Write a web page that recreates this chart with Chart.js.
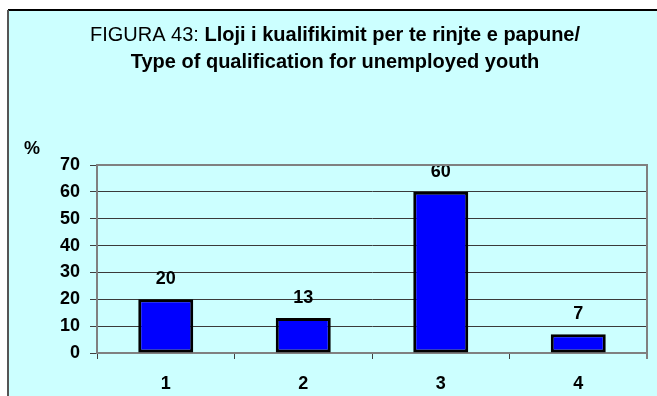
<!DOCTYPE html>
<html>
<head>
<meta charset="utf-8">
<script src="https://cdn.jsdelivr.net/npm/chart.js@4/dist/chart.umd.min.js"></script>
<style>
  html, body { margin: 0; padding: 0; background: #fff; }
  canvas { display: block; }
</style>
</head>
<body>
<canvas id="qualChart" width="657" height="396"></canvas>
<script>
// Qualification type of unemployed youth, in percent
const categories = ["1", "2", "3", "4"];
const shares = [20, 13, 60, 7];
const yMin = 0;
const yMax = 70;
const yStep = 10;

const titleNormal = "FIGURA 43: ";
const titleBold = "Lloji i kualifikimit per te rinjte e papune/";
const titleLine2 = "Type of qualification for unemployed youth";
const unitLabel = "%";

const FONT = "'Liberation Sans', Arial, sans-serif";

// Cyan panel with its top/left border, plus the two-line heading and the % unit
const panelPlugin = {
    id: "panel",
    beforeDraw(chart) {
        const ctx = chart.ctx;
        ctx.save();
        ctx.fillStyle = "#ffffff";
        ctx.fillRect(0, 0, chart.width, chart.height);
        ctx.fillStyle = "#ccffff";
        ctx.fillRect(8, 10, chart.width - 8, chart.height - 10);
        ctx.lineWidth = 2;
        ctx.strokeStyle = "#000000";
        ctx.beginPath();
        ctx.moveTo(8, 10);
        ctx.lineTo(chart.width, 10);
        ctx.stroke();
        ctx.strokeStyle = "#555555";
        ctx.beginPath();
        ctx.moveTo(8, 10);
        ctx.lineTo(8, chart.height);
        ctx.stroke();

        // heading
        const cx = 335;
        ctx.fillStyle = "#000000";
        ctx.textBaseline = "alphabetic";
        ctx.textAlign = "left";
        ctx.font = "20px " + FONT;
        const wNormal = ctx.measureText(titleNormal).width;
        ctx.font = "bold 20px " + FONT;
        const wBold = ctx.measureText(titleBold).width;
        const x0 = cx - (wNormal + wBold) / 2;
        ctx.font = "20px " + FONT;
        ctx.fillText(titleNormal, x0, 41);
        ctx.font = "bold 20px " + FONT;
        ctx.fillText(titleBold, x0 + wNormal, 41);
        ctx.textAlign = "center";
        ctx.fillText(titleLine2, cx, 68);

        ctx.textAlign = "left";
        ctx.font = "bold 18px " + FONT;
        ctx.fillText(unitLabel, 24, 154);
        ctx.restore();
    },
    afterDraw(chart) {
        // grey frame on the top and right of the plot
        const ctx = chart.ctx;
        const a = chart.chartArea;
        ctx.save();
        ctx.strokeStyle = "#808080";
        ctx.lineWidth = 2;
        ctx.beginPath();
        ctx.moveTo(a.left, a.top);
        ctx.lineTo(a.right, a.top);
        ctx.lineTo(a.right, a.bottom + 6);
        ctx.stroke();
        ctx.restore();
    }
};

// Value written above each bar
const barValuePlugin = {
    id: "barValues",
    afterDatasetsDraw(chart) {
        const ctx = chart.ctx;
        const meta = chart.getDatasetMeta(0);
        ctx.save();
        ctx.fillStyle = "#000000";
        ctx.font = "bold 18px " + FONT;
        ctx.textAlign = "center";
        ctx.textBaseline = "alphabetic";
        meta.data.forEach((bar, i) => {
            ctx.fillText(String(shares[i]), bar.x, bar.y - 15);
        });
        ctx.restore();
    }
};

new Chart(document.getElementById("qualChart"), {
    type: "bar",
    data: {
        labels: categories,
        datasets: [{
            data: shares,
            backgroundColor: "#0000ff",
            borderColor: "#000000",
            borderWidth: 3,
            borderSkipped: false,
            categoryPercentage: 1,
            barPercentage: 0.4,
        }],
    },
    options: {
        responsive: false,
        animation: false,
        devicePixelRatio: 1,
        layout: { padding: { top: 165, right: 10, left: 0, bottom: 0 } },
        plugins: {
            legend: { display: false },
            tooltip: { enabled: false },
            title: { display: false },
        },
        scales: {
            x: {
                grid: {
                    offset: true,
                    drawOnChartArea: false,
                    drawTicks: true,
                    tickLength: 6,
                    color: "#404040",
                },
                border: { color: "#808080", width: 2 },
                ticks: {
                    color: "#000000",
                    font: { family: FONT, size: 18, weight: "bold" },
                    padding: 14,
                },
                afterFit(scale) { scale.height = 43; },
            },
            y: {
                min: yMin,
                max: yMax,
                ticks: {
                    stepSize: yStep,
                    color: "#000000",
                    font: { family: FONT, size: 18, weight: "bold" },
                    padding: 10,
                },
                grid: {
                    color: "#3a3a3a",
                    lineWidth: 1,
                    tickLength: 7,
                    tickColor: "#404040",
                },
                border: { color: "#808080", width: 2 },
                afterFit(scale) { scale.width = 97; },
            },
        },
    },
    plugins: [panelPlugin, barValuePlugin],
});
</script>
</body>
</html>
